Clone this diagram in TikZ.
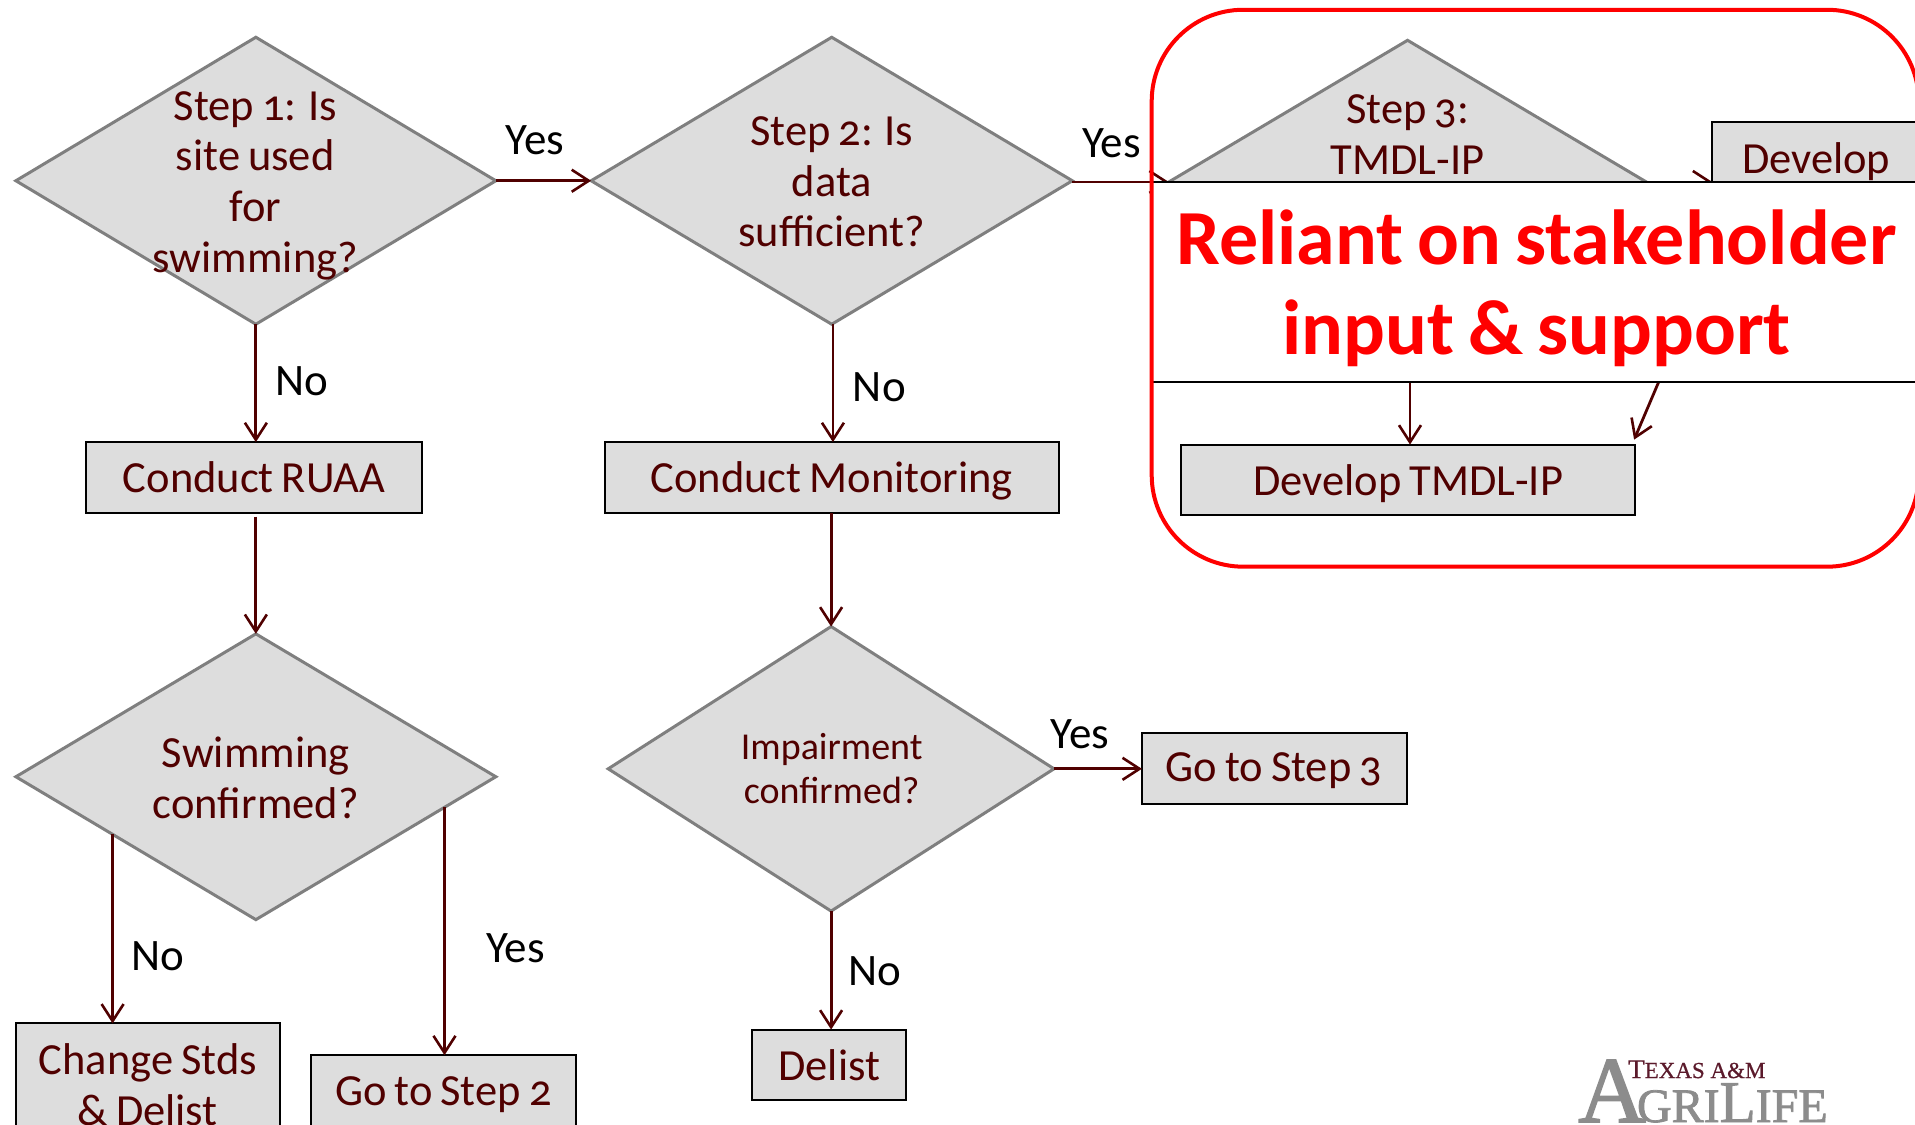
\documentclass[tikz,border=0pt]{standalone}
\usepackage{fontspec}
\setmainfont[Numbers=OldStyle,WordSpace=0.8]{Carlito}
\newfontfamily\logofont[FakeBold=0.6]{Liberation Serif}
\newfontfamily\logoheavy[FakeBold=1.6]{Liberation Serif}
\usetikzlibrary{shapes.geometric,arrows.meta,calc}
\definecolor{maroon}{HTML}{500000}
\definecolor{shapegray}{HTML}{DDDDDD}
\definecolor{dialine}{HTML}{7F7F7F}
\definecolor{logogray}{HTML}{8C8C8C}
\definecolor{logomaroon}{HTML}{5B1A2B}
\tikzset{
  x=1.2213pt,y=-1.2213pt,
  dia/.style={diamond,draw=dialine,fill=shapegray,line width=3pt,inner sep=0pt,outer sep=0pt},
  procbox/.style={rectangle,draw=black,fill=shapegray,line width=2pt,inner sep=0pt,outer sep=0pt},
  txt/.style={text=maroon,align=center,inner sep=0pt,font=\fontsize{44.5}{50.7}\selectfont},
  smalltxt/.style={text=maroon,align=center,inner sep=0pt,font=\fontsize{38}{44}\selectfont},
  ans/.style={text=black,inner sep=0pt,font=\fontsize{45}{50}\selectfont},
  conn/.style={draw=maroon,line width=2.8pt,-{Straight Barb[length=17pt,width=22pt,line width=2.6pt]}},
}
\newcommand{\sz}[1]{#1*1.2213pt}
\begin{document}
\begin{tikzpicture}
\useasboundingbox (0,0) rectangle (1568,921);
\clip (0,0) rectangle (1568,921);
% diamonds
\node[dia,minimum width=\sz{393},minimum height=\sz{235}] (A) at (209.5,148) {};
\node[dia,minimum width=\sz{394},minimum height=\sz{235}] (B) at (681,148) {};
\node[dia,minimum width=\sz{391},minimum height=\sz{232}] (C) at (1152.5,149) {};
\node[dia,minimum width=\sz{393},minimum height=\sz{234}] (D) at (209.5,636) {};
\node[dia,minimum width=\sz{365},minimum height=\sz{233}] (E) at (680.5,629.5) {};
% boxes
\node[procbox,minimum width=\sz{275},minimum height=\sz{58}] (ruaa) at (208,391) {};
\node[procbox,minimum width=\sz{372},minimum height=\sz{58}] (mon) at (681,391) {};
\node[procbox,minimum width=\sz{198},minimum height=\sz{58}] (dev) at (1501,129) {};
\node[procbox,minimum width=\sz{372},minimum height=\sz{58}] (tmdl) at (1153,393) {};
\node[procbox,minimum width=\sz{217},minimum height=\sz{58}] (gs3) at (1043.5,629) {};
\node[procbox,minimum width=\sz{126},minimum height=\sz{58}] (delist) at (679,872) {};
\node[procbox,minimum width=\sz{216},minimum height=\sz{104}] (chg) at (121,890) {};
\node[procbox,minimum width=\sz{217},minimum height=\sz{70}] (gs2) at (363.5,899) {};
% connectors
\coordinate (ruaaout) at (209.5,423);
\coordinate (bout) at (682,265);
\coordinate (monin) at (682,362);
\coordinate (cout) at (1154.5,265);
\coordinate (dleft) at ($(D.west)!0.403!(D.south)$);
\coordinate (dright) at ($(D.east)!0.214!(D.south)$);
\coordinate (devout) at ($(dev.south west)+(22,0)$);
\coordinate (tmdltip) at ($(tmdl.north east)+(-1,-4)$);
\draw[conn] (A.east) -- (B.west);
\draw[conn] (A.south) -- (A.south |- ruaa.north);
\draw[conn] (ruaaout) -- (D.north);
\draw[conn] (B.east |- C.west) -- (C.west);
\draw[conn] (bout) -- (monin);
\draw[conn] (E.north |- mon.south) -- (E.north);
\draw[conn] (E.east) -- (E.east -| gs3.west);
\draw[conn] (E.south) -- (E.south |- delist.north);
\draw[conn] (dleft) -- (dleft |- chg.north);
\draw[conn] (dright) -- (dright |- gs2.north);
\draw[conn] (C.east) -- (C.east -| dev.west);
\draw[conn] (cout) -- (cout |- tmdl.north);
\draw[conn] (devout) -- (tmdltip);
% texts in shapes
\node[txt] (Atxt) at (209,152) {Step 1: Is\\site used\\for\\swimming?};
\node[txt] (Btxt) at (681,149) {Step 2: Is\\data\\sufficient?};
\node[txt] (Ctxt) at (1152.5,110) {Step 3:\\TMDL-IP};
\node[txt] (Dtxt) at (209.5,637) {Swimming\\confirmed?};
\node[smalltxt] (Etxt) at (681,629) {Impairment\\confirmed?};
\node[txt] (ruaatxt) at (208,391) {Conduct RUAA};
\node[txt] (montxt) at (681,394) {Conduct Monitoring};
\node[txt] (devtxt) at (1487,132) {Develop};
\node[txt] (tmdltxt) at (1153,396) {Develop TMDL-IP};
\node[txt] (gs3txt) at (1043,631) {Go to Step 3};
\node[txt] (delisttxt) at (679,872) {Delist};
\node[txt] (chgtxt) at (121,888) {Change Stds\\\& Delist};
\node[txt] (gs2txt) at (363,896) {Go to Step 2};
% answers
\node[ans] (y1) at (438,115) {Yes};
\node[ans] (n1) at (247,312) {No};
\node[ans] (y2) at (910,117) {Yes};
\node[ans] (n2) at (720,317) {No};
\node[ans] (y3) at (884,601) {Yes};
\node[ans] (n3) at (716,795) {No};
\node[ans] (n4) at (129,783) {No};
\node[ans] (y4) at (422,776) {Yes};
% overlay banner
\node[rectangle,draw=black,fill=white,line width=2pt,inner sep=0pt,outer sep=0pt,minimum width=\sz{680},minimum height=\sz{164}] (banner) at (1283,231) {};
\node[text=red,align=center,inner sep=0pt,font=\fontsize{78}{90}\selectfont\bfseries] (stake) at (1258,236) {Reliant on stakeholder\\input \& support};
\node[rectangle,rounded corners=\sz{75},draw=red,line width=4pt,inner sep=0pt,outer sep=0pt,minimum width=\sz{628},minimum height=\sz{456}] (redframe) at (1257,236) {};
% logo
\node[anchor=base west,inner sep=0pt,text=logomaroon,font=\logofont] (logo1) at (1333,882.7) {\fontsize{27}{27}\selectfont T\fontsize{23}{23}\selectfont EXAS A\&M};
\node[anchor=base west,inner sep=0pt,text=logogray,font=\logoheavy] (logo2) at (1292,918.7) {\fontsize{94}{94}\selectfont A\kern-9pt\fontsize{48}{48}\selectfont GRI\fontsize{59}{59}\selectfont L\fontsize{48}{48}\selectfont IFE};
\end{tikzpicture}
\end{document}
